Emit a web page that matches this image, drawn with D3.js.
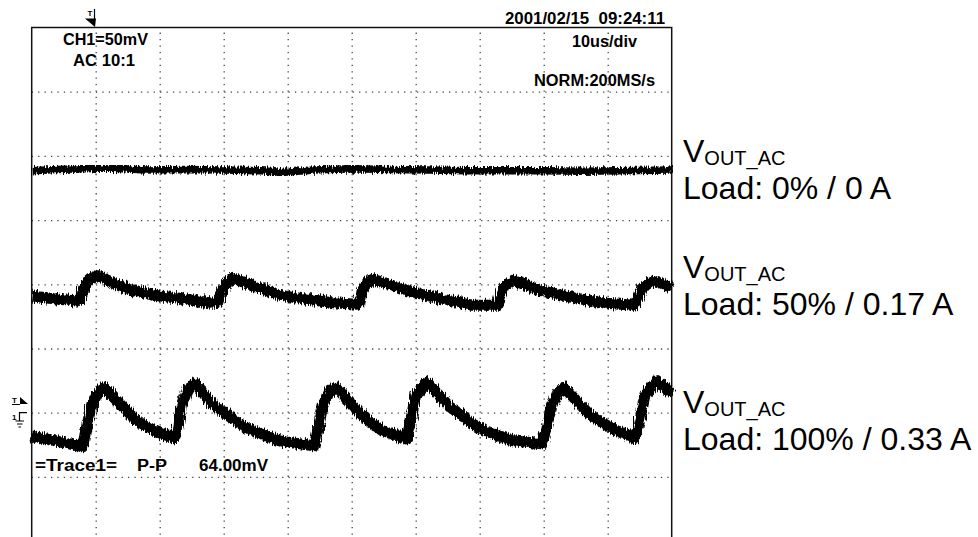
<!DOCTYPE html>
<html>
<head>
<meta charset="utf-8">
<script src="https://cdn.jsdelivr.net/npm/d3@7"></script>
<style>
  body { margin: 0; background: #fff; }
  svg { display: block; }
  .scope-text { font-family: "Liberation Sans", Arial, sans-serif; font-weight: bold; font-size: 16px; fill: #000; }
  .label { font-family: "Liberation Sans", Arial, sans-serif; fill: #000; }
  .grid line { stroke: #444; stroke-width: 1.3; stroke-dasharray: 1.3 5.12; }
</style>
</head>
<body>
<div id="chart"></div>
<script>
//******************
// Data (time in us, level in mV)
//******************
var gridTimes = [10, 20, 30, 40, 50, 60, 70, 80, 90];
var gridLevels = [-50, 0, 50, 100, 150, 200, 250];

// Load 0% / 0 A
var trace0 = [[0,188.5],[4,189.5],[8,190],[12,190.5],[18,189],[24,189.5],[30,189],[36,188.5],[39,187],[44,189],
  [50,190],[56,189.5],[62,189],[68,188.5],[74,188.5],[80,188.5],[86,188],[92,188.5],[100,189]];

// Load 50% / 0.17 A
var trace50 = [[0,90.9],[2.8,89.1],[7,87],[7.5,87.5],[8.1,96.9],[9.1,103.9],[10.2,107],[12.2,102.3],[15.3,96.1],
  [19.2,91.4],[23.1,89.1],[28.3,85.2],[29.1,85.9],[29.7,95.3],[30.5,100.8],[31.4,104.7],[34.1,100],[38.75,91.4],
  [46.6,85.9],[50.8,84.4],[51.25,85.9],[51.7,95.3],[52.3,100.8],[53.3,103.9],[58.6,95.3],[63.75,89.1],[68.9,83.6],
  [72.7,83.6],[73.1,90.6],[73.9,98.4],[75.2,103.1],[79.4,95.3],[84.5,89.8],[89.8,85.2],[94.1,83.6],[94.7,89.1],
  [95.5,97.7],[96.9,102.3],[98.4,100.8],[100,97.3]];

// Load 100% / 0.33 A
var trace100 = [[0,-18],[4.84,-23.2],[7.97,-26.6],[8.44,-14.1],[9.38,5.5],[10.3,15.6],[11.4,19.1],[13.3,9.4],
  [16.4,-6.3],[19.5,-14.8],[22.2,-19.5],[22.7,-15.6],[23.4,5.5],[24.4,18.75],[25.5,23],[28.3,6.25],[33.6,-12.1],
  [38.75,-21.9],[44.1,-25.8],[44.5,-18],[45.5,5.5],[46.6,17.2],[47.7,19.1],[51.25,-0.8],[54.8,-14.1],[58.6,-20.3],
  [59.1,-10.2],[60,13.3],[61.7,24.2],[65.3,4.7],[70,-12.5],[75.2,-21.9],[79.7,-24.2],[80.3,-14.1],[81.25,5.5],
  [82.2,15.6],[83.3,19.1],[87.2,-1.6],[91.4,-14.1],[94.2,-19.5],[94.7,-12.5],[95.8,13.3],[97.7,25],[100,14.8]];

var traces = [trace0, trace50, trace100];
var traceWidths = [7.5, 11, 11];
var loadLabels = ["Load: 0% / 0 A", "Load: 50% / 0.17 A", "Load: 100% / 0.33 A"];
var labelLevels = [195, 105, 0];

//******************
// Setup
//******************
var width = 978;
var height = 537;
var screen = { left: 31.7, right: 671.7, top: 27.5, bottom: 541.1 };

var x = d3.scaleLinear().domain([0, 100]).range([screen.left, screen.right]);
var y = d3.scaleLinear().domain([-100, 300]).range([screen.bottom, screen.top]);

var svg = d3.select("#chart").append("svg")
  .attr("width", width)
  .attr("height", height);

// jagged look of the scope trace
var filter = svg.append("defs").append("filter")
  .attr("id", "fuzz")
  .attr("x", "-5%").attr("y", "-60%")
  .attr("width", "110%").attr("height", "220%");
filter.append("feTurbulence")
  .attr("type", "fractalNoise")
  .attr("baseFrequency", "1.1 0.08")
  .attr("numOctaves", 2)
  .attr("seed", 4)
  .attr("result", "n");
filter.append("feDisplacementMap")
  .attr("in", "SourceGraphic")
  .attr("in2", "n")
  .attr("scale", 8)
  .attr("xChannelSelector", "R")
  .attr("yChannelSelector", "G");

// grid
svg.append("g")
  .attr("class", "grid")
  .attr("transform", `translate(0,${screen.bottom})`)
  .call(d3.axisBottom(x).tickValues(gridTimes).tickSize(-(screen.bottom - screen.top)).tickFormat(""))
  .call((g) => g.select(".domain").remove());

svg.append("g")
  .attr("class", "grid")
  .attr("transform", `translate(${screen.left},0)`)
  .call(d3.axisLeft(y).tickValues(gridLevels).tickSize(-(screen.right - screen.left)).tickFormat(""))
  .call((g) => g.select(".domain").remove());

// frame
svg.append("path")
  .attr("d", `M${screen.left},${height}V${screen.top}H${screen.right}V${height}`)
  .attr("fill", "none")
  .attr("stroke", "#111")
  .attr("stroke-width", 1.5);

// traces
var line = d3.line().x((d) => x(d[0])).y((d) => y(d[1]));

svg.append("g")
  .selectAll("path")
  .data(traces)
  .join("path")
  .attr("d", line)
  .attr("fill", "none")
  .attr("stroke", "#000")
  .attr("stroke-width", (d, i) => traceWidths[i])
  .attr("stroke-linejoin", "round")
  .attr("filter", "url(#fuzz)");

// scope readouts
var readouts = [
  { t: "CH1=50mV", x: 63, y: 44.5, w: 85 },
  { t: "AC 10:1", x: 73, y: 65.5, w: 62 },
  { t: "2001/02/15  09:24:11", x: 505, y: 24, w: 160 },
  { t: "10us/div", x: 572, y: 47, w: 65 },
  { t: "NORM:200MS/s", x: 534, y: 85.5, w: 121 },
  { t: "=Trace1=", x: 35, y: 470.5, w: 82 },
  { t: "P-P", x: 137, y: 470.5, w: 30 },
  { t: "64.00mV", x: 199, y: 470.5, w: 69 }
];
svg.append("g")
  .selectAll("text")
  .data(readouts)
  .join("text")
  .attr("class", "scope-text")
  .attr("x", (d) => d.x)
  .attr("y", (d) => d.y)
  .attr("textLength", (d) => d.w)
  .attr("lengthAdjust", "spacingAndGlyphs")
  .attr("xml:space", "preserve")
  .text((d) => d.t);

// trigger position marker (top)
var trig = svg.append("g");
trig.append("text").attr("class", "scope-text").attr("x", 87.5).attr("y", 16)
  .style("font-size", "8px").text("T");
trig.append("path").attr("d", "M94.5,9V19").attr("stroke", "#000").attr("stroke-width", 1.2);
trig.append("path").attr("d", "M85,18.5H96L95,27Z").attr("fill", "#000");

// trigger level and channel ground markers (left)
var side = svg.append("g");
side.append("text").attr("class", "scope-text").attr("x", 12).attr("y", 403)
  .style("font-size", "8px").text("T");
side.append("path").attr("d", "M12,404.5H20").attr("stroke", "#000").attr("stroke-width", 1);
side.append("path").attr("d", "M20,397V404H28Z").attr("fill", "#000");
side.append("text").attr("class", "scope-text").attr("x", 12).attr("y", 420)
  .style("font-size", "8px").text("1");
side.append("path")
  .attr("d", `M27,${y(0)}H19.5V421M15.5,421H24M17,424H22.5M18.5,427H21`)
  .attr("fill", "none").attr("stroke", "#000").attr("stroke-width", 1.2);

// annotations on the right
var labels = svg.append("g")
  .selectAll("g")
  .data(loadLabels)
  .join("g")
  .attr("transform", (d, i) => `translate(683,${y(labelLevels[i])})`);

var vText = labels.append("text").attr("class", "label").attr("y", 0).style("font-size", "32px");
vText.append("tspan").text("V");
vText.append("tspan").attr("dy", 3).style("font-size", "20px").text("OUT_AC");

labels.append("text")
  .attr("class", "label")
  .attr("y", 37)
  .style("font-size", "32px")
  .text((d) => d);
</script>
</body>
</html>
